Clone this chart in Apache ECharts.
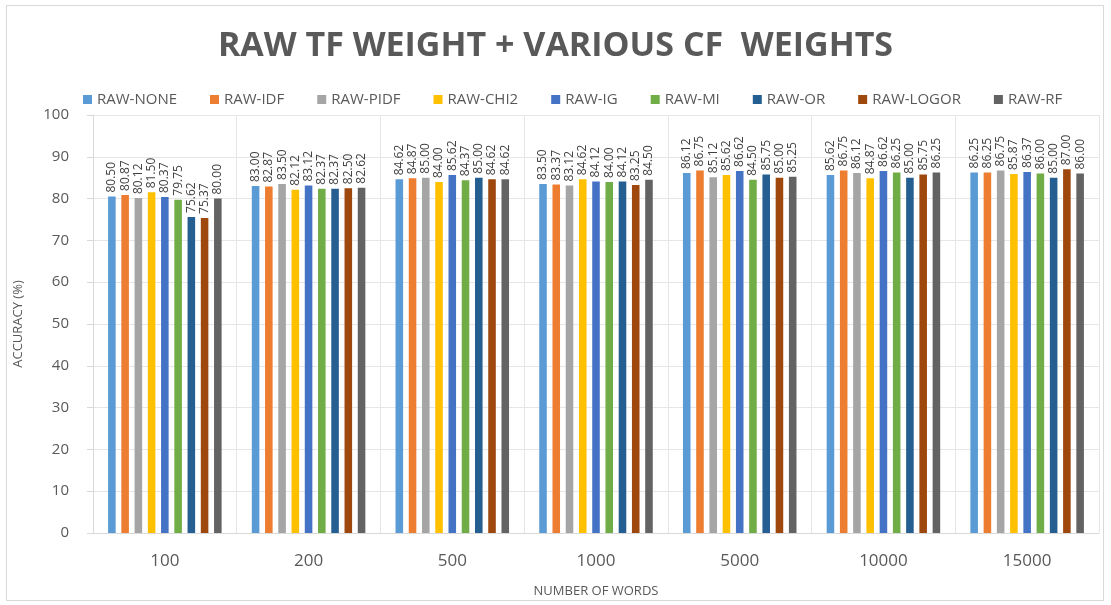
<!DOCTYPE html>
<html>
<head>
<meta charset="utf-8">
<script src="https://cdn.jsdelivr.net/npm/echarts@6/dist/echarts.min.js"></script>
<style>
  html, body { margin: 0; padding: 0; background: #ffffff; }
  #frame { position: absolute; left: 6px; top: 5px; width: 1098px; height: 596px; border: 1px solid #d9d9d9; box-sizing: border-box; }
  #chart { position: absolute; left: 0; top: 0; width: 1111px; height: 605px; }
</style>
</head>
<body>
<div id="frame"></div>
<div id="chart"></div>
<script>
// Number of words used as features
const categories = ['100', '200', '500', '1000', '5000', '10000', '15000'];

// Accuracy (%) per weighting scheme
const rawNone  = [80.50, 83.00, 84.62, 83.50, 86.12, 85.62, 86.25];
const rawIdf   = [80.87, 82.87, 84.87, 83.37, 86.75, 86.75, 86.25];
const rawPidf  = [80.12, 83.50, 85.00, 83.12, 85.12, 86.12, 86.75];
const rawChi2  = [81.50, 82.12, 84.00, 84.62, 85.62, 84.87, 85.87];
const rawIg    = [80.37, 83.12, 85.62, 84.12, 86.62, 86.62, 86.37];
const rawMi    = [79.75, 82.37, 84.37, 84.00, 84.50, 86.25, 86.00];
const rawOr    = [75.62, 82.37, 85.00, 84.12, 85.75, 85.00, 85.00];
const rawLogor = [75.37, 82.50, 84.62, 83.25, 85.00, 85.75, 87.00];
const rawRf    = [80.00, 82.62, 84.62, 84.50, 85.25, 86.25, 86.00];

const seriesNames = ['RAW-NONE', 'RAW-IDF', 'RAW-PIDF', 'RAW-CHI2', 'RAW-IG', 'RAW-MI', 'RAW-OR', 'RAW-LOGOR', 'RAW-RF'];
const seriesData  = [rawNone, rawIdf, rawPidf, rawChi2, rawIg, rawMi, rawOr, rawLogor, rawRf];
const palette = ['#5B9BD5', '#ED7D31', '#A5A5A5', '#FFC000', '#4472C4', '#70AD47', '#255E91', '#9E480E', '#636363'];

const yTicks = { min: 0, max: 100, interval: 10 };

const chart = echarts.init(document.getElementById('chart'), null, { renderer: 'canvas' });

const series = seriesNames.map((name, i) => ({
  name: name,
  type: 'bar',
  data: seriesData[i],
  barGap: '75%',
  barCategoryGap: '21%',
  itemStyle: { color: palette[i] },
  label: {
    show: true,
    position: 'top',
    rotate: 90,
    align: 'left',
    verticalAlign: 'middle',
    distance: 4,
    fontFamily: 'Open Sans',
    fontSize: 12,
    color: '#404040',
    formatter: (p) => p.value.toFixed(2)
  }
}));

chart.setOption({
  animation: false,
  color: palette,
  title: {
    text: 'RAW TF WEIGHT + VARIOUS CF  WEIGHTS',
    left: 'center',
    top: 24,
    textStyle: {
      fontFamily: 'Open Sans',
      fontWeight: 'bold',
      fontSize: 34,
      letterSpacing: 3,
      color: '#595959'
    }
  },
  legend: {
    data: seriesNames,
    top: 87,
    left: 78,
    itemWidth: 9,
    itemHeight: 9,
    itemGap: 33,
    icon: 'rect',
    textStyle: { fontFamily: 'Open Sans', fontSize: 15, color: '#595959' }
  },
  grid: { left: 93, right: 12, top: 115, bottom: 72, containLabel: false },
  xAxis: {
    type: 'category',
    data: categories,
    name: 'NUMBER OF WORDS',
    nameLocation: 'middle',
    nameGap: 52,
    nameTextStyle: { fontFamily: 'Open Sans', fontSize: 13, color: '#595959' },
    axisLine: { show: true, lineStyle: { color: '#d9d9d9' } },
    axisTick: { show: false },
    splitLine: { show: true, lineStyle: { color: '#e6e6e6' } },
    axisLabel: { fontFamily: 'Open Sans', fontSize: 17, color: '#595959', margin: 20 }
  },
  yAxis: {
    type: 'value',
    min: yTicks.min,
    max: yTicks.max,
    interval: yTicks.interval,
    name: 'ACCURACY (%)',
    nameLocation: 'middle',
    nameGap: 68,
    nameTextStyle: { fontFamily: 'Open Sans', fontSize: 13, color: '#595959' },
    axisLine: { show: true, lineStyle: { color: '#d9d9d9' } },
    axisTick: { show: true, length: 6, lineStyle: { color: '#d9d9d9' } },
    splitLine: { show: true, lineStyle: { color: '#e6e6e6' } },
    axisLabel: { fontFamily: 'Open Sans', fontSize: 15, color: '#595959', margin: 24 }
  },
  series: series
});
</script>
</body>
</html>
